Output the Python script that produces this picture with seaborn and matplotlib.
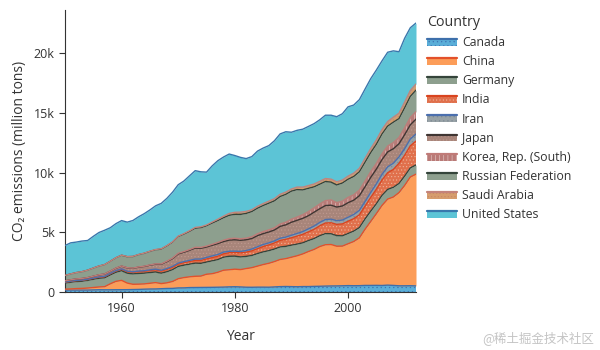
import numpy as np
import pandas as pd
import matplotlib
matplotlib.use("Agg")
import matplotlib.pyplot as plt
import seaborn as sns
from matplotlib.patches import Patch, Rectangle
from matplotlib.lines import Line2D
from matplotlib.legend_handler import HandlerBase
from matplotlib.ticker import FuncFormatter

# CO2 emissions, million tons, 1950-2012
years = list(range(1950, 2013))
countries = ["Canada", "China", "Germany", "India", "Iran", "Japan",
             "Korea, Rep. (South)", "Russian Federation", "Saudi Arabia", "United States"]

canada = [155, 160, 158, 160, 160, 175, 190, 185, 185, 190,
          192, 195, 205, 215, 235, 250, 255, 275, 295, 300,
          340, 345, 370, 375, 380, 385, 390, 400, 410, 430,
          440, 425, 400, 395, 405, 405, 400, 425, 450, 460,
          450, 440, 455, 455, 470, 480, 495, 505, 510, 520,
          535, 525, 530, 550, 550, 555, 545, 575, 550, 520,
          520, 525, 510]
china = [80, 95, 128, 140, 170, 200, 230, 260, 500, 700,
         780, 550, 440, 440, 440, 480, 530, 430, 470, 580,
         770, 860, 900, 940, 950, 1100, 1140, 1250, 1410, 1430,
         1470, 1450, 1560, 1640, 1760, 1890, 2000, 2120, 2270, 2330,
         2460, 2590, 2730, 2930, 3090, 3320, 3460, 3470, 3320, 3320,
         3500, 3700, 4000, 4700, 5350, 6000, 6700, 7200, 7400, 7800,
         8400, 9100, 9350]
germany = [510, 560, 590, 600, 640, 690, 730, 740, 740, 760,
           810, 830, 870, 900, 900, 900, 890, 870, 930, 990,
           1030, 1040, 1060, 1100, 1070, 1020, 1080, 1060, 1090, 1130,
           1090, 1060, 1020, 1020, 1050, 1060, 1060, 1050, 1050, 1030,
           1010, 980, 930, 920, 910, 910, 930, 900, 890, 860,
           860, 870, 860, 860, 860, 830, 840, 810, 810, 760,
           780, 760, 770]
india = [70, 72, 75, 76, 80, 85, 90, 100, 105, 110,
         120, 130, 140, 150, 155, 170, 175, 180, 195, 200,
         200, 210, 220, 230, 240, 260, 270, 280, 290, 300,
         310, 340, 360, 390, 410, 450, 480, 510, 550, 590,
         620, 670, 710, 730, 780, 830, 890, 920, 940, 1000,
         1030, 1040, 1070, 1080, 1160, 1220, 1290, 1400, 1500, 1690,
         1750, 1850, 2000]
iran = [20, 20, 20, 20, 20, 22, 25, 27, 30, 30,
        32, 35, 40, 45, 50, 55, 60, 65, 70, 75,
        80, 90, 100, 110, 120, 130, 140, 150, 140, 120,
        110, 120, 130, 150, 160, 170, 170, 175, 180, 190,
        210, 220, 230, 250, 270, 280, 290, 300, 310, 320,
        330, 350, 370, 380, 410, 440, 470, 490, 520, 540,
        550, 570, 590]
japan = [100, 110, 120, 130, 130, 145, 170, 190, 180, 200,
         230, 280, 290, 330, 360, 390, 420, 500, 580, 650,
         770, 780, 840, 920, 900, 870, 890, 910, 880, 930,
         950, 930, 900, 880, 930, 910, 910, 910, 990, 1020,
         1090, 1100, 1110, 1100, 1160, 1150, 1170, 1170, 1140, 1180,
         1220, 1200, 1230, 1240, 1260, 1240, 1240, 1250, 1210, 1100,
         1170, 1190, 1250]
korea = [2, 3, 3, 4, 5, 6, 7, 9, 10, 12,
         13, 14, 16, 18, 19, 22, 25, 30, 38, 45,
         54, 57, 60, 70, 73, 77, 85, 100, 115, 125,
         130, 130, 135, 145, 155, 170, 180, 180, 200, 220,
         250, 270, 300, 340, 360, 390, 410, 440, 370, 400,
         440, 450, 460, 470, 480, 470, 470, 490, 510, 520,
         570, 600, 620]
russia = [450, 490, 530, 570, 620, 680, 730, 780, 820, 860,
          900, 920, 970, 1030, 1080, 1130, 1180, 1240, 1280, 1330,
          1400, 1460, 1520, 1590, 1650, 1700, 1770, 1830, 1880, 1950,
          2000, 2040, 2070, 2110, 2140, 2180, 2230, 2260, 2300, 2330,
          2350, 2300, 2080, 1950, 1760, 1660, 1600, 1490, 1480, 1520,
          1520, 1530, 1540, 1580, 1590, 1610, 1670, 1670, 1710, 1580,
          1680, 1780, 1800]
saudi = [3, 3, 4, 4, 5, 5, 6, 7, 8, 9,
         10, 12, 14, 16, 18, 20, 24, 28, 30, 32,
         35, 45, 55, 70, 75, 70, 90, 110, 130, 160,
         170, 190, 170, 150, 160, 160, 170, 180, 190, 190,
         180, 210, 230, 230, 240, 240, 250, 250, 260, 250,
         260, 280, 290, 320, 340, 360, 370, 380, 420, 450,
         470, 490, 520]
usa = [2500, 2600, 2550, 2560, 2480, 2650, 2800, 2870, 2800, 2850,
       2890, 2880, 3000, 3150, 3300, 3450, 3650, 3800, 3950, 4150,
       4300, 4400, 4600, 4750, 4600, 4420, 4700, 4900, 4950, 4970,
       4750, 4580, 4420, 4450, 4620, 4650, 4650, 4850, 5050, 5050,
       4750, 4750, 4850, 4950, 5050, 5150, 5300, 5350, 5450, 5550,
       5800, 5700, 5750, 5800, 5850, 5850, 5750, 5800, 5550, 5150,
       5350, 5250, 5100]

fills = {"Canada": "#5aaed8", "China": "#fc9d59", "Germany": "#8d9f8e",
         "India": "#e0704c", "Iran": "#98a2a6", "Japan": "#a8857a",
         "Korea, Rep. (South)": "#b97a77", "Russian Federation": "#8d9f8e",
         "Saudi Arabia": "#d69d6d", "United States": "#5cc4d6"}
strokes = {"Canada": "#3d6fab", "China": "#e3512a", "Germany": "#34443a",
           "India": "#d9441f", "Iran": "#4b6fae", "Japan": "#3f3532",
           "Korea, Rep. (South)": "#c07b78", "Russian Federation": "#34443a",
           "Saudi Arabia": "#c4837a", "United States": "#3877ac"}
hatches = {"Canada": "....", "China": None, "Germany": None, "India": ".....",
           "Iran": "....", "Japan": ".....", "Korea, Rep. (South)": "||||",
           "Russian Federation": None, "Saudi Arabia": ".....", "United States": None}
hatch_colors = {"Canada": "#3f74b4", "China": "#fc9d59", "Germany": "#8d9f8e",
                "India": "#eeb39a", "Iran": "#7e8a95", "Japan": "#c09a90",
                "Korea, Rep. (South)": "#e8cfcb", "Russian Federation": "#8d9f8e",
                "Saudi Arabia": "#c98666", "United States": "#5cc4d6"}

sns.set_theme(style="ticks")
plt.rcParams["font.family"] = ["Open Sans", "DejaVu Sans"]
plt.rcParams["hatch.linewidth"] = 0.4

values = np.array([canada, china, germany, india, iran, japan, korea,
                   russia, saudi, usa], dtype=float)
top = values.cumsum(axis=0)
bottom = top - values

df = pd.DataFrame({"Year": np.tile(years, len(countries)),
                   "Country": np.repeat(countries, len(years)),
                   "top": top.ravel()})

fig = plt.figure(figsize=(6, 3.5), dpi=100)
ax = fig.add_axes([65 / 600, 58 / 350, 351 / 600, 282 / 350])

for i, c in enumerate(countries):
    ax.fill_between(years, bottom[i], top[i], facecolor=fills[c],
                    edgecolor=hatch_colors[c], hatch=hatches[c],
                    linewidth=0, zorder=1)

sns.lineplot(data=df, x="Year", y="top", hue="Country", hue_order=countries,
             palette=strokes, linewidth=1.0, legend=False, ax=ax, zorder=3)

ax.set_xlim(1950, 2012)
ax.set_ylim(0, 23600)
ax.set_xticks([1960, 1980, 2000])
ax.set_yticks([0, 5000, 10000, 15000, 20000])
ax.yaxis.set_major_formatter(FuncFormatter(lambda v, p: "0" if v == 0 else f"{int(v / 1000)}k"))
ax.tick_params(length=4, width=0.8, color="#333333", labelsize=9, labelcolor="#333333")
sns.despine(ax=ax)
for s in ("left", "bottom"):
    ax.spines[s].set_color("#333333")
    ax.spines[s].set_linewidth(0.8)
ax.set_xlabel("Year", fontsize=10, color="#333333", labelpad=10)
ax.set_ylabel("CO₂ emissions (million tons)", fontsize=10, color="#333333", labelpad=5)


class SwatchHandler(HandlerBase):
    def create_artists(self, legend, orig_handle, xdescent, ydescent,
                       width, height, fontsize, trans):
        c = orig_handle.get_label()
        rect = Rectangle((-xdescent, -ydescent), width, height * 0.8,
                         facecolor=fills[c], edgecolor=hatch_colors[c],
                         hatch=hatches[c], linewidth=0, transform=trans)
        line = Line2D([-xdescent, -xdescent + width],
                      [-ydescent + height * 0.85] * 2,
                      color=strokes[c], linewidth=1.6, transform=trans)
        return [rect, line]


handles = [Patch(facecolor=fills[c], label=c) for c in countries]
leg = fig.legend(handles=handles, title="Country", loc="upper left",
                 bbox_to_anchor=(427 / 600, 1 - 15 / 350), frameon=False,
                 fontsize=8.8, title_fontsize=10.3, handlelength=2.45,
                 handleheight=0.65, handletextpad=0.4, labelspacing=0.5,
                 alignment="left", borderpad=0, borderaxespad=0,
                 handler_map={Patch: SwatchHandler()})
for t in leg.get_texts():
    t.set_color("#333333")
leg.get_title().set_color("#333333")

fig.text(0.99, 0.015, "@稀土掘金技术社区", ha="right", va="bottom",
         color="#c4c4c4", fontsize=9,
         family=["Noto Sans CJK SC", "DejaVu Sans"])

fig.savefig("out.png", dpi=100)
